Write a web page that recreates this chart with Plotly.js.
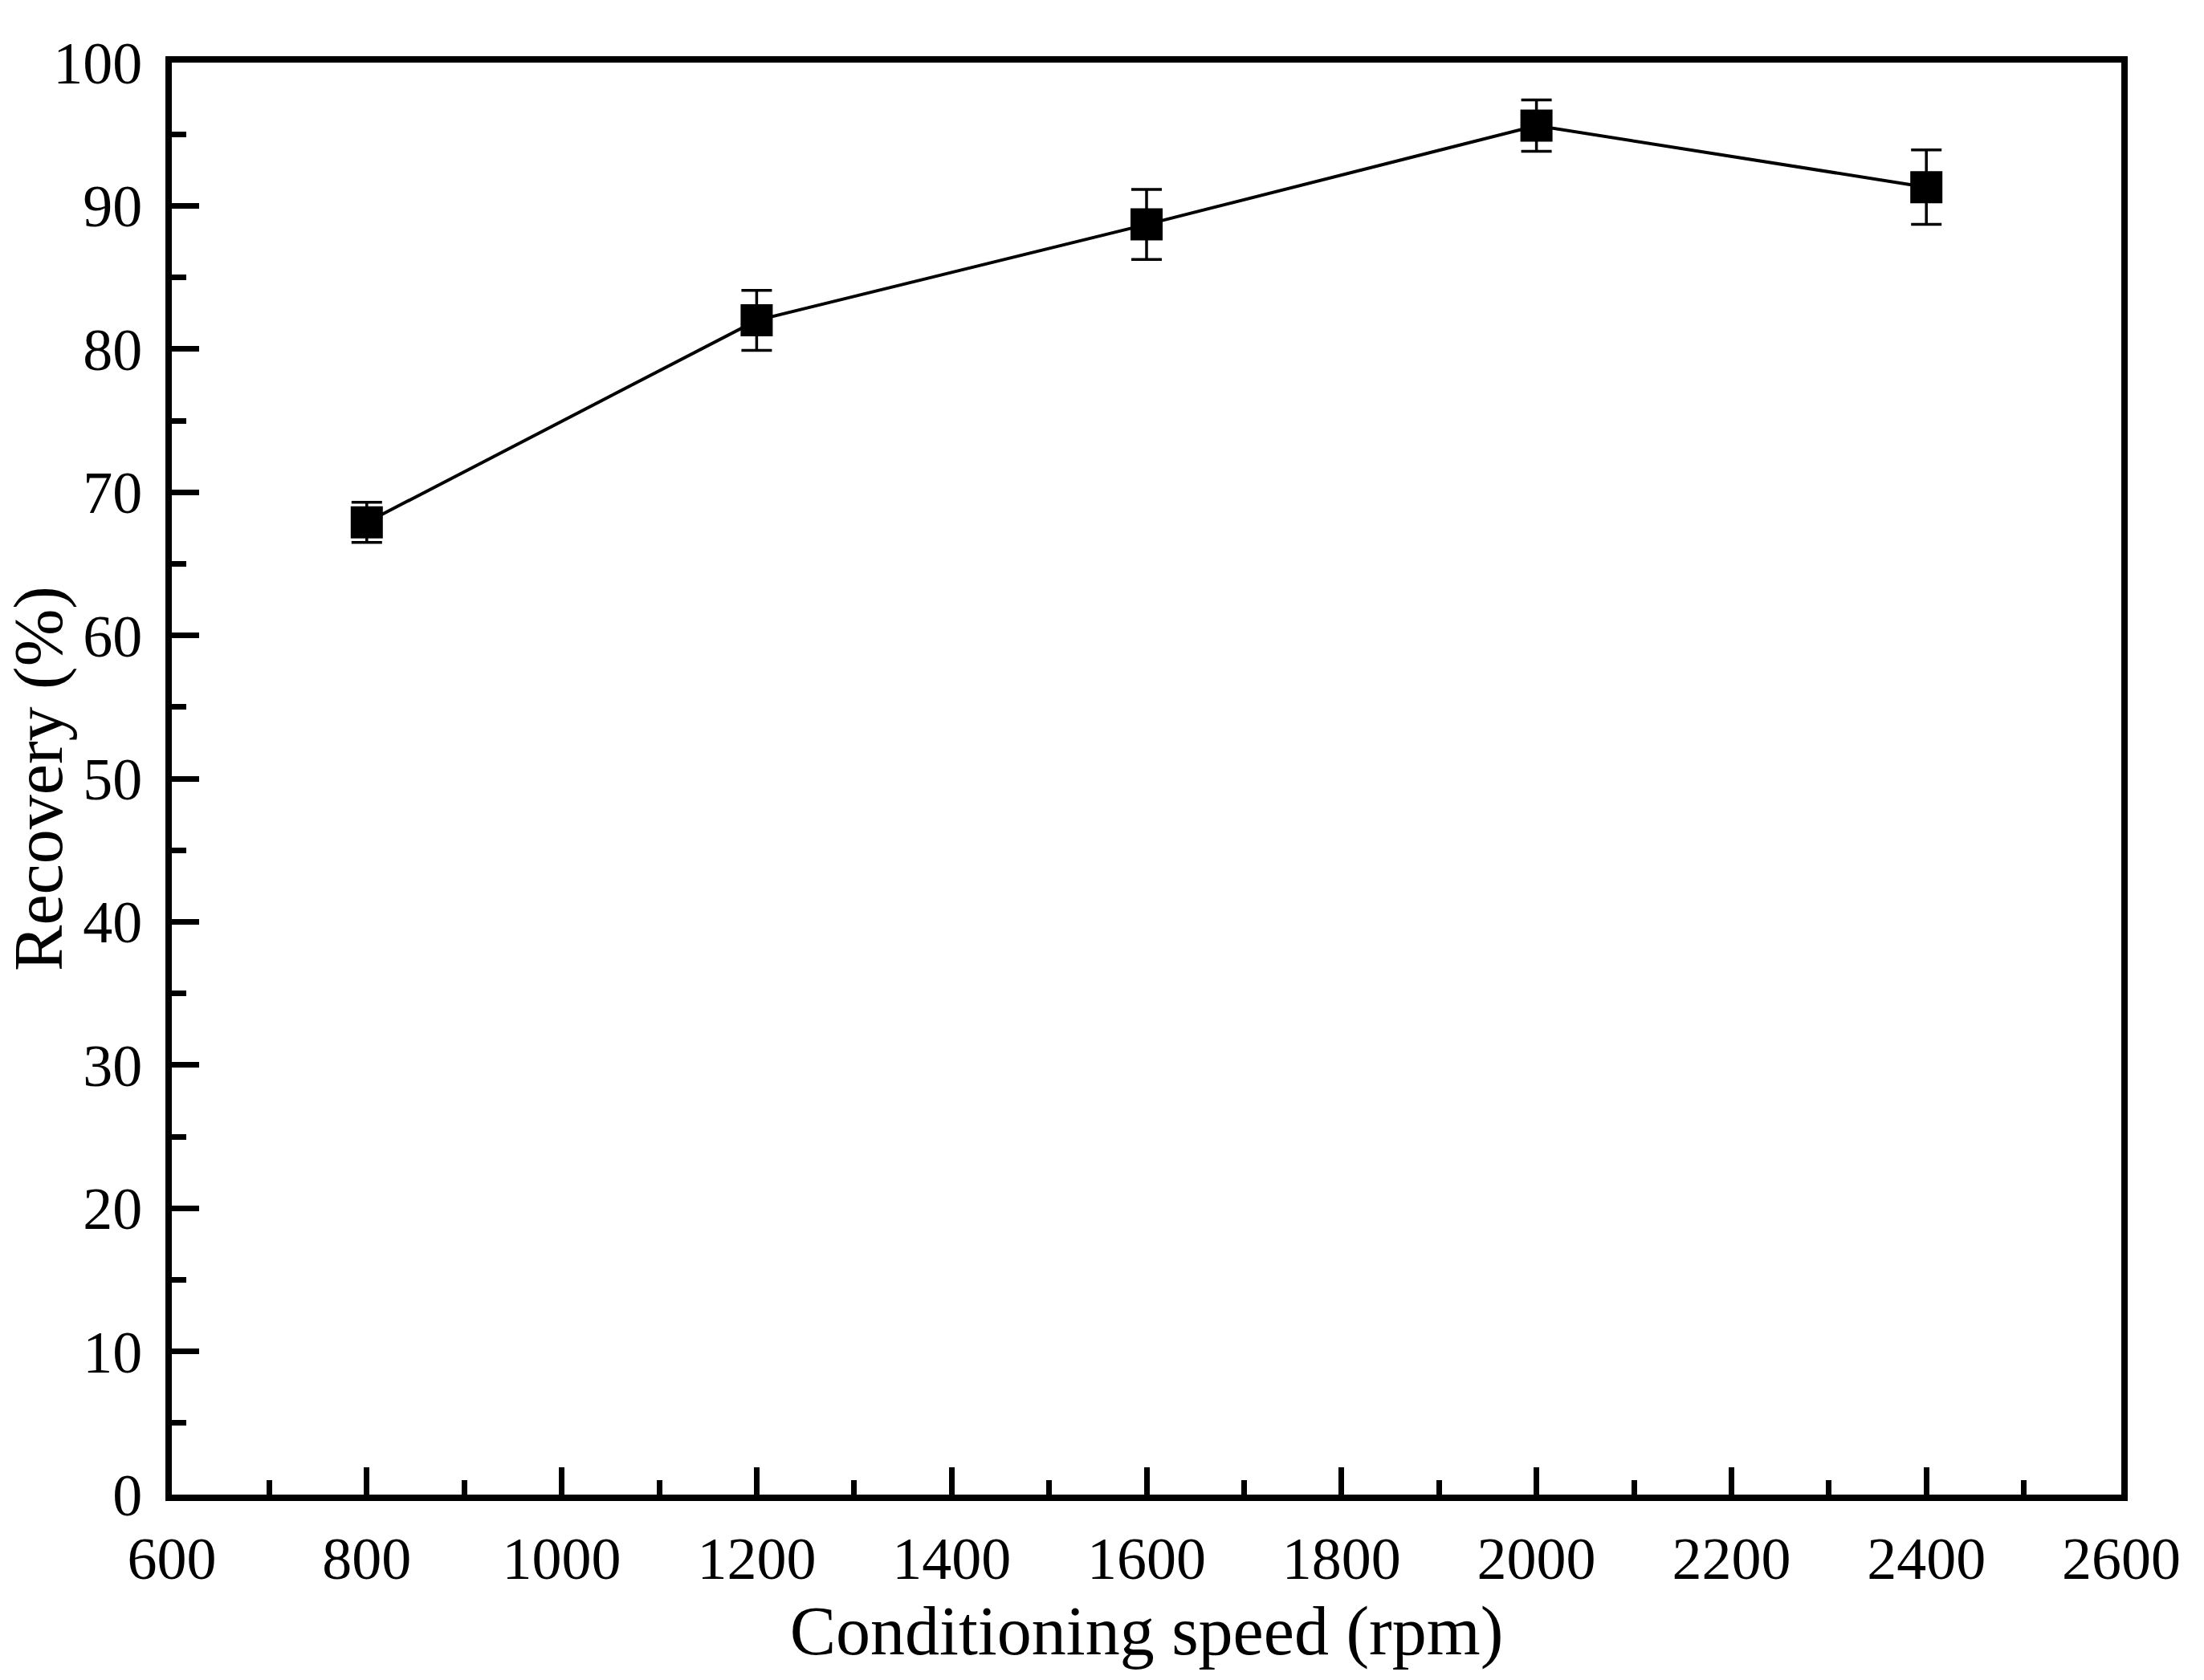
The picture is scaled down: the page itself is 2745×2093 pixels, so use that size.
<!DOCTYPE html>
<html>
<head>
<meta charset="utf-8">
<script src="https://cdn.plot.ly/plotly-3.0.1.min.js"></script>
<style>html,body{margin:0;padding:0;background:#fff;}#chart{width:2745px;height:2093px;}</style>
</head>
<body>
<div id="chart"></div>
<script>
var speed = [800, 1200, 1600, 2000, 2400];
var recovery = [67.9, 82.0, 88.7, 95.6, 91.3];
var recoveryErr = [1.4, 2.1, 2.45, 1.8, 2.6];
var xTitle = 'Conditioning speed (rpm)';
var yTitle = 'Recovery (%)';

var font = 'Liberation Serif, Times New Roman, serif';

var trace = {
  x: speed, y: recovery, type: 'scatter', mode: 'lines+markers',
  line: {color: '#000', width: 4},
  marker: {symbol: 'square', size: 40, color: '#000'},
  error_y: {type: 'data', array: recoveryErr, visible: true, color: '#000', thickness: 3.5, width: 19}
};

var axisCommon = {
  showgrid: false, zeroline: false, showline: true, linecolor: '#000', linewidth: 8,
  mirror: true, ticks: 'inside', ticklen: 34, tickwidth: 7, tickcolor: '#000',
  tickfont: {family: font, size: 74, color: '#000'}
};

var layout = {
  width: 2745, height: 2093,
  margin: {l: 214, r: 103, t: 78, b: 231},
  paper_bgcolor: '#fff', plot_bgcolor: '#fff',
  showlegend: false,
  xaxis: Object.assign({}, axisCommon, {
    range: [600, 2600], dtick: 200, tick0: 600,
    minor: {dtick: 100, ticks: 'inside', ticklen: 18, tickwidth: 7, tickcolor: '#000'},
    ticklabelstandoff: 8,
    title: {text: xTitle, font: {family: font, size: 86, color: '#000'}, standoff: 22}
  }),
  yaxis: Object.assign({}, axisCommon, {
    range: [0, 100], dtick: 10, tick0: 0,
    minor: {dtick: 5, ticks: 'inside', ticklen: 18, tickwidth: 7, tickcolor: '#000'},
    ticklabelstandoff: 14,
    title: {text: yTitle, font: {family: font, size: 86, color: '#000'}, standoff: 20}
  })
};

Plotly.newPlot('chart', [trace], layout, {displayModeBar: false, staticPlot: true});
</script>
</body>
</html>
